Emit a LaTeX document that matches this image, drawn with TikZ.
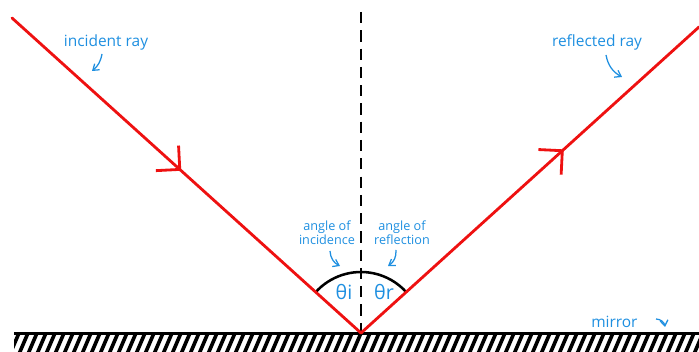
\documentclass[tikz,border=0pt]{standalone}
\usepackage{fontspec}
\newfontfamily\handfont{Open Sans}
\usetikzlibrary{arrows.meta,decorations.markings}
\definecolor{rayred}{HTML}{EE1111}
\definecolor{noteblue}{HTML}{1E8FE0}

\begin{document}
\begin{tikzpicture}[
  x=0.025cm, y=-0.025cm,
  ray/.style={rayred, line width=2pt, line cap=round},
  midtip/.style={postaction={decorate}, decoration={markings,
    mark=at position #1 with {\arrow[rayred]{Straight Barb[angle=90:17pt, line width=2pt]}}}},
  normal/.style={line width=2pt, dash pattern=on 8pt off 5pt},
  note/.style={font=\handfont\fontsize{11}{12}\selectfont, text=noteblue, inner sep=0pt, align=center},
  angnote/.style={note, font=\handfont\fontsize{9}{10}\selectfont},
  pointer/.style={noteblue, line width=0.9pt, -{Straight Barb[length=4pt, angle'=70]}},
  greek/.style={font=\handfont\fontsize{14}{14}\selectfont, text=noteblue, inner sep=0pt}
]
\useasboundingbox (0,0) rectangle (699,352);

% --- points ---
\coordinate (src) at (12,18);
\coordinate (hit) at (361,333);
\coordinate (out) at (699,27);
\coordinate (top) at (361,12);

% --- mirror ---
\begin{scope}
  \clip (14,335) rectangle (699,352);
  \foreach \x in {10,19,...,715}
    \draw[line width=2.6pt] (\x-9,354) -- (\x,333);
\end{scope}
\draw[line width=2.2pt] (14,333.5) -- (699,333.5);

% --- normal ---
\draw[normal] (top) -- (hit);

% --- angle arc (y axis points down) ---
\draw[line width=1.8pt] ([shift={(222:61)}]hit) arc[start angle=222, end angle=318, radius=61];

% --- rays ---
\draw[ray, midtip=0.485] (src) -- (hit);
\draw[ray, midtip=0.6] (hit) -- (out);

% --- labels ---
\node[greek] (thi) at (344,292) {θi};
\node[greek] (thr) at (384,292) {θr};

\node[note] (inc) at (106,42) {incident ray};
\draw[pointer] (102,54) to[bend left=20] (92,71);

\node[note] (refl) at (597,42) {reflected ray};
\draw[pointer] (606,55) to[bend right=25] (622,77);

\node[angnote] (aoi) at (327,233) {angle of\\incidence};
\draw[pointer] (330,251) to[bend right=30] (340,266);

\node[angnote] (aor) at (402,233) {angle of\\reflection};
\draw[pointer] (396,250) to[bend left=30] (388,266);

\node[note, anchor=west] (mir) at (591,322) {mirror};
\draw[pointer] (656,319) to[bend left=40] (665,327);
\end{tikzpicture}
\end{document}
